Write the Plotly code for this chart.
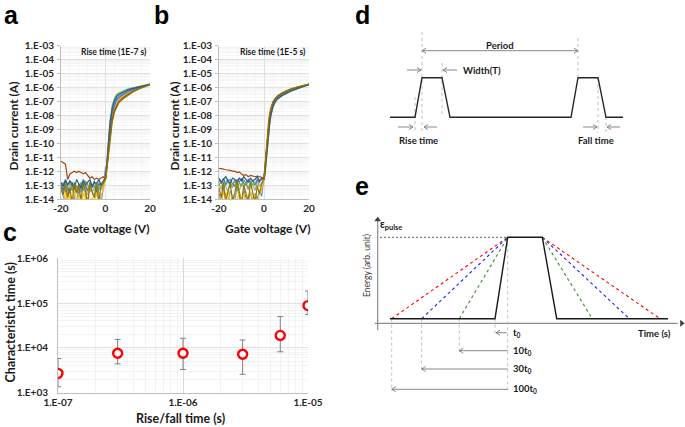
import plotly.graph_objects as go

FW, FH = 685, 427

# ---------------- data: panels a / b (log10 of drain current in A) ----------------
V_OFF = [-20, -19, -18, -17, -16, -15, -14, -13, -12, -11, -10, -9, -8, -7, -6, -5, -4, -3, -2, -1]
V_ON = [0, 0.5, 1, 1.5, 2, 2.5, 3, 4, 5, 6, 8, 10, 12, 15, 20]
CURVE_COLORS = ['#5B9BD5', '#A5A5A5', '#FFC000', '#4472C4', '#70AD47', '#255E91', '#9E480E', '#997300']

A_OFF_LOG = [
    [-13.3, -13.8, -14.3, -13.2, -13.6, -12.9, -13.9, -14.4, -13.1, -13.5, -12.8, -13.7, -14.2, -13.0, -13.4, -13.9, -12.9, -13.6, -14.3, -13.2],
    [-13.0, -13.5, -13.1, -13.8, -12.7, -13.3, -13.6, -13.0, -13.9, -12.8, -13.4, -13.1, -13.7, -12.9, -13.5, -13.2, -13.8, -12.8, -13.3, -13.0],
    [-13.9, -14.4, -13.5, -14.2, -13.7, -14.5, -13.4, -14.1, -13.8, -14.6, -13.6, -14.0, -13.3, -14.4, -13.9, -14.2, -13.5, -14.3, -13.7, -13.4],
    [-12.9, -13.4, -12.7, -13.2, -13.6, -12.8, -13.1, -13.5, -12.9, -13.3, -12.6, -13.0, -13.4, -12.8, -13.2, -12.7, -13.5, -12.9, -13.1, -12.8],
    [-13.2, -12.8, -13.5, -13.0, -12.7, -13.4, -12.9, -13.1, -13.6, -12.8, -13.3, -12.7, -13.0, -13.5, -12.9, -13.2, -12.8, -13.4, -12.9, -12.7],
    [-12.8, -13.1, -12.6, -13.0, -12.7, -12.9, -13.3, -12.6, -12.9, -13.2, -12.7, -13.0, -12.8, -12.6, -13.1, -12.8, -12.9, -12.6, -13.0, -12.7],
    [-11.3, -11.4, -11.5, -12.6, -12.2, -12.1, -12.0, -12.1, -12.0, -12.1, -12.2, -12.1, -12.3, -12.5, -12.4, -12.6, -12.5, -12.6, -12.5, -12.4],
    [-13.1, -13.7, -12.9, -13.9, -13.2, -14.3, -12.8, -13.6, -13.0, -14.1, -12.9, -13.4, -14.4, -12.8, -13.5, -13.9, -12.9, -14.2, -13.1, -12.8],
]
A_ON_LOG = [
    [-11.7, -11.75, -10.6, -9.6, -8.8, -8.2, -7.65, -7.1, -6.76, -6.6, -6.41, -6.24, -6.12, -5.97, -5.77],
    [-12.55, -11.9, -10.9, -9.95, -9.15, -8.55, -8.0, -7.37, -7.0, -6.8, -6.56, -6.37, -6.21, -6.02, -5.78],
    [-12.55, -11.95, -11.1, -10.1, -9.3, -8.7, -8.15, -7.5, -7.15, -6.9, -6.64, -6.43, -6.26, -6.05, -5.79],
    [-12.55, -11.8, -10.8, -9.8, -9.0, -8.4, -7.8, -7.25, -6.89, -6.7, -6.49, -6.3, -6.17, -6.0, -5.78],
    [-12.5, -11.6, -10.3, -9.2, -8.4, -7.9, -7.3, -6.8, -6.5, -6.4, -6.25, -6.12, -6.03, -5.92, -5.76],
    [-12.5, -11.7, -10.5, -9.4, -8.6, -8.05, -7.5, -6.95, -6.63, -6.5, -6.33, -6.18, -6.08, -5.95, -5.77],
    [-12.6, -12.0, -11.2, -10.3, -9.5, -8.85, -8.3, -7.65, -7.27, -7.0, -6.72, -6.49, -6.3, -6.08, -5.79],
    [-12.6, -12.1, -11.4, -10.5, -9.7, -9.0, -8.5, -7.8, -7.4, -7.1, -6.8, -6.55, -6.35, -6.1, -5.8],
]
B_OFF_LOG = [
    [-13.6, -14.3, -13.2, -13.9, -14.4, -13.4, -13.8, -14.2, -13.1, -13.7, -14.5, -13.3, -13.9, -14.1, -13.5, -14.3, -13.6, -14.0, -13.4, -13.8],
    [-12.9, -13.3, -12.7, -13.1, -13.5, -12.8, -13.2, -12.6, -13.0, -13.4, -12.9, -13.1, -12.7, -13.3, -12.8, -13.0, -13.4, -12.7, -13.1, -12.8],
    [-13.8, -14.3, -13.5, -14.0, -13.3, -14.4, -13.7, -13.9, -14.2, -13.4, -14.1, -13.6, -14.3, -13.8, -13.5, -14.0, -13.7, -14.4, -13.6, -13.3],
    [-12.6, -12.9, -12.5, -13.0, -12.7, -12.6, -12.9, -13.1, -12.6, -12.8, -12.5, -12.9, -13.0, -12.6, -12.8, -12.7, -13.0, -12.6, -12.8, -12.5],
    [-13.0, -12.7, -13.3, -12.8, -12.6, -13.2, -12.9, -12.7, -13.4, -12.8, -13.1, -12.6, -12.9, -13.3, -12.7, -13.0, -12.8, -13.2, -12.7, -12.6],
    [-12.5, -12.8, -12.6, -12.4, -12.7, -12.9, -12.5, -12.6, -12.8, -12.5, -12.7, -12.4, -12.6, -12.8, -12.5, -12.7, -12.6, -12.4, -12.7, -12.5],
    [-11.8, -11.8, -11.85, -11.9, -11.9, -11.95, -12.0, -12.0, -12.1, -12.05, -12.2, -12.3, -12.25, -12.4, -12.3, -12.35, -12.4, -12.35, -12.4, -12.4],
    [-13.2, -13.9, -12.8, -14.3, -13.4, -12.9, -14.1, -13.6, -12.7, -13.8, -14.4, -13.0, -13.5, -14.2, -12.8, -13.7, -14.3, -13.1, -13.6, -12.9],
]
B_ON_LOG = [
    [-12.55, -11.7, -10.65, -9.65, -8.75, -8.15, -7.67, -7.11, -6.84, -6.66, -6.44, -6.28, -6.15, -5.99, -5.77],
    [-12.55, -11.9, -10.9, -9.9, -9.0, -8.35, -7.85, -7.23, -6.92, -6.74, -6.5, -6.33, -6.19, -6.02, -5.78],
    [-12.55, -12.0, -11.05, -10.05, -9.15, -8.45, -7.93, -7.29, -6.96, -6.77, -6.54, -6.36, -6.22, -6.04, -5.79],
    [-12.55, -11.8, -10.8, -9.8, -8.9, -8.25, -7.76, -7.17, -6.88, -6.7, -6.47, -6.31, -6.17, -6.0, -5.77],
    [-12.6, -12.2, -11.3, -10.3, -9.4, -8.7, -8.1, -7.4, -7.05, -6.85, -6.6, -6.42, -6.27, -6.08, -5.8],
    [-12.6, -12.1, -11.15, -10.15, -9.25, -8.6, -8.0, -7.34, -7.0, -6.8, -6.57, -6.39, -6.25, -6.06, -5.79],
    [-12.5, -11.6, -10.55, -9.55, -8.65, -8.0, -7.6, -7.06, -6.79, -6.62, -6.41, -6.25, -6.12, -5.97, -5.76],
    [-12.5, -11.5, -10.4, -9.4, -8.5, -7.9, -7.5, -7.0, -6.75, -6.58, -6.38, -6.22, -6.1, -5.95, -5.75],
]
AB_DECADES = [-14, -13, -12, -11, -10, -9, -8, -7, -6, -5, -4, -3]
AB_XTICKS = [-20, 0, 20]

# ---------------- data: panel c ----------------
C_RISE = [1e-7, 3e-7, 1e-6, 3e-6, 6e-6, 1e-5]
C_TAU = [2.7e3, 7.6e3, 7.6e3, 7.2e3, 1.9e4, 8.8e4]
C_ERR_HI = [5.8e3, 1.55e4, 1.64e4, 1.5e4, 5.0e4, 1.86e5]
C_ERR_LO = [1.36e3, 4.4e3, 3.3e3, 2.57e3, 8.2e3, 5.6e4]
C_XDEC = [-7, -6, -5]
C_YDEC = [3, 4, 5, 6]

# ---------------- data: schematics d / e (drawing units = figure pixels) ----------------
D_PULSE_X = [390, 415, 422, 442, 450, 571, 578, 598, 606, 623]
D_PULSE_Y = [117.3, 117.3, 77.7, 77.7, 117.3, 117.3, 77.7, 77.7, 117.3, 117.3]
D_GUIDES = [(415, 97, 133), (422, 32, 133), (442, 63, 117), (578, 38, 78), (598, 78, 133), (606, 117, 133)]
D_ARROWS = [(500, 422, 50.7), (500, 578, 50.7), (407, 421, 70), (457, 443, 70),
            (398, 413, 127), (437, 424, 127), (583, 597, 127), (620, 607, 127)]

E_BASE_Y = 318.7
E_TOP_Y = 237.3
E_PULSE_X = [390, 495, 507.7, 542.3, 556.7, 668]
E_PULSE_Y = [E_BASE_Y, E_BASE_Y, E_TOP_Y, E_TOP_Y, E_BASE_Y, E_BASE_Y]
E_RAMP_START = [391.7, 421.7, 459.3]
E_RAMP_END = [660, 629.3, 592.3]
E_RAMP_COLORS = ['#FF0000', '#1F1FFF', '#3C8A2E']
E_GUIDES = [(391.7, E_BASE_Y, 390), (421.7, E_BASE_Y, 370), (459.3, E_BASE_Y, 351.7),
            (495, E_BASE_Y, 335), (507.7, E_TOP_Y, 390)]
E_ARROWS = [(506.7, 496, 332.7), (507.7, 459.3, 350.7), (507.7, 421.7, 369), (507.7, 391.7, 389.3)]
E_ARROW_LABELS = ['t<sub>0</sub>', '10t<sub>0</sub>', '30t<sub>0</sub>', '100t<sub>0</sub>']
E_AXIS_ORIGIN = (377.7, 323.3)
E_AXIS_TIPS = (216.7, 681.7)


def px(x):
    return x / FW


def py(y):
    return 1 - y / FH


fig = go.Figure()

# panels a and b
for panel, off, on, xa, ya in (('a', A_OFF_LOG, A_ON_LOG, 'x', 'y'), ('b', B_OFF_LOG, B_ON_LOG, 'x2', 'y2')):
    for i, col in enumerate(CURVE_COLORS):
        fig.add_trace(go.Scatter(
            x=V_OFF + V_ON, y=[10 ** v for v in off[i] + on[i]],
            xaxis=xa, yaxis=ya, mode='lines',
            line=dict(color=col, width=1.2), showlegend=False, hoverinfo='skip'))

# panel c
fig.add_trace(go.Scatter(
    x=C_RISE, y=C_TAU, xaxis='x3', yaxis='y3', mode='markers',
    marker=dict(symbol='circle', size=9, color='white', line=dict(color='#FF0000', width=2.4)),
    error_y=dict(type='data', symmetric=False,
                 array=[h - t for h, t in zip(C_ERR_HI, C_TAU)],
                 arrayminus=[t - l for t, l in zip(C_TAU, C_ERR_LO)],
                 color='#808080', thickness=1, width=3),
    showlegend=False, hoverinfo='skip'))


def lines(xs, ys, color, width, dash='solid'):
    fig.add_trace(go.Scatter(x=xs, y=ys, xaxis='x4', yaxis='y4', mode='lines',
                             line=dict(color=color, width=width, dash=dash),
                             showlegend=False, hoverinfo='skip'))


def arrow_paths(arrows, head=4, half=2.5):
    xs, ys = [], []
    for xt, xh, y in arrows:
        d = 1 if xh > xt else -1
        xs += [xt, xh, None, xh - d * head, xh, xh - d * head, None]
        ys += [y, y, None, y - half, y, y + half, None]
    return xs, ys


def guide_paths(guides):
    xs, ys = [], []
    for x, y0, y1 in guides:
        xs += [x, x, None]
        ys += [y0, y1, None]
    return xs, ys


# panel d
gx, gy = guide_paths(D_GUIDES)
lines(gx, gy, '#AFAFAF', 0.8, 'dot')
lines(D_PULSE_X, D_PULSE_Y, '#262626', 1.4)
axs, ays = arrow_paths(D_ARROWS)
lines(axs, ays, '#7A7A7A', 0.9)

# panel e
ox, oy = E_AXIS_ORIGIN
ytip, xtip = E_AXIS_TIPS
lines([ox, ox, None, ox - 3, xtip - 4], [oy + 7, ytip + 4, None, oy, oy], '#8C8C8C', 1.2)
fig.add_trace(go.Scatter(x=[ox, xtip], y=[ytip + 3, oy], xaxis='x4', yaxis='y4', mode='markers',
                         marker=dict(symbol=['triangle-up', 'triangle-right'], size=6, color='#404040'),
                         showlegend=False, hoverinfo='skip'))
gx, gy = guide_paths(E_GUIDES)
lines(gx, gy, '#AFAFAF', 0.8, 'dot')
lines([380, 507.7], [E_TOP_Y, E_TOP_Y], '#404040', 0.8, '2px,2px')
for xs0, xe0, col in zip(E_RAMP_START, E_RAMP_END, E_RAMP_COLORS):
    lines([xs0, 507.7, None, 542.3, xe0], [E_BASE_Y, E_TOP_Y, None, E_TOP_Y, E_BASE_Y], col, 1.1, 'dot')
lines(E_PULSE_X, E_PULSE_Y, '#1A1A1A', 1.4)
axs, ays = arrow_paths(E_ARROWS)
lines(axs, ays, '#7A7A7A', 0.9)

# ---------------- axes ----------------
TICKFONT = dict(family='Lato', size=10, color='#262626', weight='bold')
GRID = '#D9D9D9'
MINOR = '#F0F0F0'


def ab_yaxis(anchor):
    return dict(type='log', range=[-14, -3], anchor=anchor, domain=[py(199), py(45.7)],
                tickmode='array', tickvals=[10 ** k for k in AB_DECADES],
                ticktext=['1.E-%02d' % -k for k in AB_DECADES],
                showgrid=True, gridcolor=GRID, gridwidth=0.8,
                minor=dict(tickmode='array', ticks='',
                           tickvals=[m * 10 ** k for k in AB_DECADES[:-1] for m in range(2, 10)],
                           showgrid=True, gridcolor=MINOR, gridwidth=0.5),
                showline=True, linecolor='#BFBFBF', linewidth=1,
                ticks='outside', ticklen=3, tickcolor='#BFBFBF', automargin=False,
                tickfont=TICKFONT, ticklabelstandoff=1, zeroline=False, fixedrange=True)


def ab_xaxis(anchor, x0, x1):
    return dict(range=[-20, 20], anchor=anchor, domain=[px(x0), px(x1)],
                tickmode='array', tickvals=AB_XTICKS, ticktext=[str(v) for v in AB_XTICKS],
                showgrid=True, gridcolor=GRID, gridwidth=0.8,
                minor=dict(tickmode='array', ticks='', tickvals=[-16, -12, -8, -4, 4, 8, 12, 16],
                           showgrid=True, gridcolor=MINOR, gridwidth=0.5),
                showline=True, linecolor='#BFBFBF', linewidth=1, ticks='', automargin=False,
                tickfont=TICKFONT, ticklabelstandoff=0, zeroline=False, fixedrange=True)


fig.update_layout(
    width=FW, height=FH, margin=dict(l=0, r=0, t=0, b=0, autoexpand=False),
    paper_bgcolor='white', plot_bgcolor='rgba(0,0,0,0)', showlegend=False,
    xaxis=ab_xaxis('y', 61, 150), yaxis=ab_yaxis('x'),
    xaxis2=ab_xaxis('y2', 219, 309), yaxis2=ab_yaxis('x2'),
    xaxis3=dict(type='log', range=[-7, -5], anchor='y3', domain=[px(58), px(308)],
                tickmode='array', tickvals=[10 ** k for k in C_XDEC],
                ticktext=['1.E-%02d' % -k for k in C_XDEC],
                showgrid=True, gridcolor='#CFCFCF', gridwidth=0.8,
                minor=dict(tickmode='array', ticks='',
                           tickvals=[m * 10 ** k for k in C_XDEC[:-1] for m in range(2, 10)],
                           showgrid=True, gridcolor='#EBEBEB', gridwidth=0.6),
                showline=True, linecolor='#BFBFBF', ticks='', tickfont=TICKFONT, automargin=False,
                ticklabelstandoff=0, zeroline=False, fixedrange=True),
    yaxis3=dict(type='log', range=[3, 6], anchor='x3', domain=[py(392.7), py(258.3)],
                tickmode='array', tickvals=[10 ** k for k in C_YDEC],
                ticktext=['1.E+%02d' % k for k in C_YDEC],
                showgrid=True, gridcolor='#D9D9D9', gridwidth=0.8,
                minor=dict(tickmode='array', ticks='',
                           tickvals=[m * 10 ** k for k in C_YDEC[:-1] for m in range(2, 10)],
                           showgrid=True, gridcolor='#EBEBEB', gridwidth=0.6),
                showline=True, linecolor='#BFBFBF', ticks='', tickfont=TICKFONT, automargin=False,
                ticklabelstandoff=7, zeroline=False, fixedrange=True),
    xaxis4=dict(range=[0, FW], domain=[0, 1], anchor='y4', visible=False, fixedrange=True, automargin=False),
    yaxis4=dict(range=[FH, 0], domain=[0, 1], anchor='x4', visible=False, fixedrange=True, automargin=False),
)

ann = []


def text(x, y, s, size=10, bold=True, family='Lato', xanchor='center', angle=0, color='#1A1A1A',
         yanchor='middle'):
    ann.append(dict(x=x, y=y, xref='x4', yref='y4', text=s, showarrow=False,
                    xanchor=xanchor, yanchor=yanchor, textangle=angle, borderpad=0,
                    font=dict(family=family, size=size, color=color,
                              weight='bold' if bold else 'normal')))


for letter, lx, ly in (('a', 11, 0), ('b', 161, 0), ('d', 362, 0)):
    text(lx, ly, letter, size=25, family='Liberation Sans', color='#000000', yanchor='top')
for letter, lx, ly in (('c', 10, 232), ('e', 362, 186)):
    text(lx, ly, letter, size=25, family='Liberation Sans', color='#000000')

text(12.5, 126, 'Drain current (A)', size=12, angle=-90)
text(173.5, 126, 'Drain current (A)', size=12, angle=-90)
text(106, 228, 'Gate voltage (V)', size=12)
text(267.5, 228, 'Gate voltage (V)', size=12)
text(148, 51.7, 'Rise time (1E-7 s)', size=8.5, xanchor='right')
text(307, 51.7, 'Rise time (1E-5 s)', size=8.5, xanchor='right')
text(9.5, 323, 'Characteristic time (s)', size=12.5, angle=-90)
text(180, 418, 'Rise/fall time (s)', size=12.5)

text(500, 45, 'Period', size=9.5)
text(462, 70, 'Width(T)', size=9.5, xanchor='left')
text(418, 140, 'Rise time', size=9.5)
text(596, 140, 'Fall time', size=9.5)

text(379, 225, 'ε<sub>pulse</sub>', size=10.5, xanchor='left')
text(367, 266, 'Energy (arb. unit)', size=8.5, bold=False, angle=-90, color='#404040')
text(654, 333.3, 'Time (s)', size=9.5)
for (xt, xh, y), lab in zip(E_ARROWS, E_ARROW_LABELS):
    text(512, y, lab, size=9.5, xanchor='left')

fig.update_layout(annotations=ann)
fig.write_html('out.html', config={'displayModeBar': False, 'staticPlot': True},
               post_script="document.body.style.margin='0';document.body.style.overflow='hidden';")
